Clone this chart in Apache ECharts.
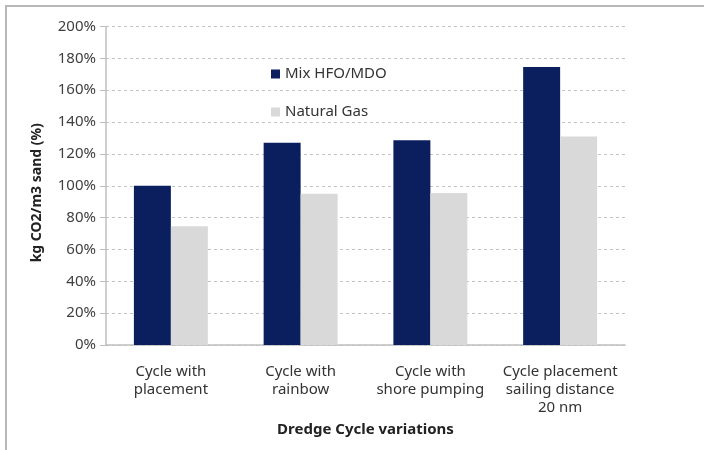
<!DOCTYPE html>
<html>
<head>
<meta charset="utf-8">
<script src="https://cdn.jsdelivr.net/npm/echarts@6/dist/echarts.min.js"></script>
<style>
  html, body { margin: 0; padding: 0; background: #fff; }
  #chart { width: 704px; height: 450px; }
</style>
</head>
<body>
<div id="chart"></div>
<script>
// Dredge cycle variations and relative emissions (kg CO2 per m3 sand, %)
const categories = [
  'Cycle with\nplacement',
  'Cycle with\nrainbow',
  'Cycle with\nshore pumping',
  'Cycle placement\nsailing distance\n20 nm'
];
const mixHfoMdo = [100, 127, 128.5, 174.5];
const naturalGas = [74.5, 95, 95.5, 131];
const seriesNames = ['Mix HFO/MDO', 'Natural Gas'];

const chart = echarts.init(document.getElementById('chart'), null, { renderer: 'canvas' });

const labelFont = '"Noto Sans", "DejaVu Sans", sans-serif';

chart.setOption({
  backgroundColor: '#ffffff',
  animation: false,
  graphic: [{
    type: 'rect',
    shape: { x: 6, y: 6, width: 760, height: 500 },
    style: { fill: 'none', stroke: '#b8b8b8', lineWidth: 2 },
    silent: true,
    z: -1
  }],
  grid: { left: 106, right: 79, top: 26.5, bottom: 105, containLabel: false },
  legend: {
    orient: 'vertical',
    left: 266,
    top: 61,
    itemWidth: 9,
    itemHeight: 9,
    itemGap: 22,
    icon: 'rect',
    data: seriesNames,
    textStyle: { fontFamily: labelFont, fontSize: 15, color: '#333', lineHeight: 16 }
  },
  xAxis: {
    type: 'category',
    data: categories,
    name: 'Dredge Cycle variations',
    nameLocation: 'middle',
    nameGap: 72,
    nameTextStyle: { fontFamily: labelFont, fontSize: 15, fontWeight: 'bold', color: '#222' },
    axisLine: { lineStyle: { color: '#bfbfbf', width: 1.5 } },
    axisTick: { show: false },
    axisLabel: {
      fontFamily: labelFont, fontSize: 15, color: '#333',
      lineHeight: 18, margin: 18, interval: 0
    }
  },
  yAxis: {
    type: 'value',
    min: 0,
    max: 200,
    interval: 20,
    name: 'kg CO2/m3 sand (%)',
    nameLocation: 'middle',
    nameGap: 62,
    nameRotate: 90,
    nameTextStyle: {
      fontFamily: labelFont, fontSize: 14, fontWeight: 'bold', color: '#222',
      padding: [0, 14, 0, 0]
    },
    axisLine: { show: true, lineStyle: { color: '#bfbfbf', width: 1.5 } },
    axisTick: { show: true, length: 6, lineStyle: { color: '#bfbfbf' } },
    axisLabel: {
      fontFamily: labelFont, fontSize: 15, color: '#404040', margin: 10,
      formatter: v => v + '%'
    },
    splitLine: { lineStyle: { color: '#c4c4c4', type: [3, 3], width: 1 } }
  },
  series: [
    {
      name: seriesNames[0],
      type: 'bar',
      data: mixHfoMdo,
      barGap: '0%',
      barCategoryGap: '43%',
      itemStyle: { color: '#0b1f5f' }
    },
    {
      name: seriesNames[1],
      type: 'bar',
      data: naturalGas,
      barGap: '0%',
      barCategoryGap: '43%',
      itemStyle: { color: '#d9d9d9' }
    }
  ]
});
</script>
</body>
</html>
